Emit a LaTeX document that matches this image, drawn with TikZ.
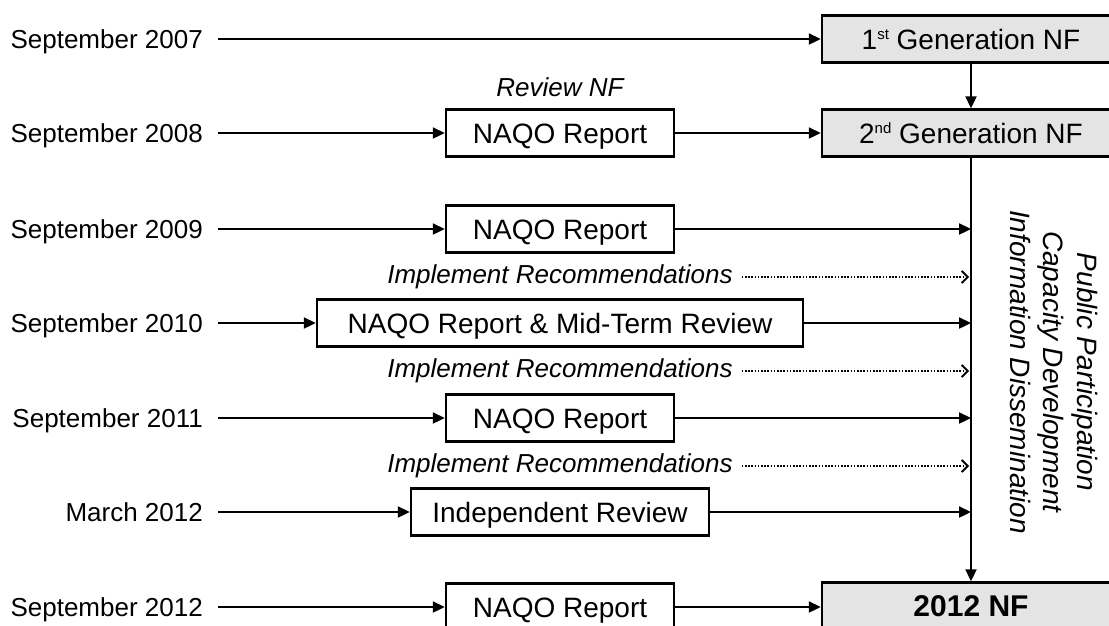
\documentclass[tikz,border=0pt]{standalone}
\usepackage{fontspec}
\setmainfont{Liberation Sans}
\usetikzlibrary{arrows.meta}
\definecolor{nfgray}{HTML}{E4E4E4}
\newcommand{\ordsup}[1]{\raisebox{10pt}{\fontsize{15}{15}\selectfont #1}}
\begin{document}
\begin{tikzpicture}[x=1pt,y=-1pt,
  datelbl/.style={anchor=east,inner sep=0pt,text height=18.6pt,text depth=0pt,
                  font=\fontsize{26}{30}\selectfont},
  repbox/.style={draw,line width=2.5pt,minimum height=47pt,inner sep=0pt,
                 text height=20pt,text depth=0pt,font=\fontsize{28}{32}\selectfont},
  nfbox/.style={repbox,fill=nfgray,minimum width=298pt},
  note/.style={inner sep=0pt,font=\fontsize{26}{30}\selectfont\itshape},
  flow/.style={line width=2.3pt,-{Triangle[length=12pt,width=11pt]}},
  recflow/.style={line width=2.2pt,dash pattern=on 1.6pt off 1.6pt,
                  -{Straight Barb[length=6pt,width=12pt,line width=1.8pt]}},
]
\useasboundingbox (0,0) rectangle (1109,625);

% national framework generations (right column)
\node[nfbox] (gen1) at (971,39) {1\ordsup{st} Generation NF};
\node[nfbox] (gen2) at (971,133) {2\ordsup{nd} Generation NF};
\node[nfbox,text height=21.5pt,font=\fontsize{30}{34}\selectfont\bfseries] (nf12) at (971,606) {2012 NF};

% dates
\node[datelbl] (d07) at (203,39) {September 2007};
\node[datelbl] (d08) at (203,133) {September 2008};
\node[datelbl] (d09) at (203,229) {September 2009};
\node[datelbl] (d10) at (203,323) {September 2010};
\node[datelbl] (d11) at (203,418) {September 2011};
\node[datelbl] (d12a) at (203,512) {March 2012};
\node[datelbl] (d12b) at (203,607) {September 2012};

% reports and reviews
\node[repbox,minimum width=228pt] (r08) at (560,133) {NAQO Report};
\node[repbox,minimum width=228pt] (r09) at (560,229) {NAQO Report};
\node[repbox,minimum width=486pt] (r10) at (560,323) {NAQO Report \& Mid-Term Review};
\node[repbox,minimum width=228pt] (r11) at (560,418) {NAQO Report};
\node[repbox,minimum width=298pt] (r12a) at (560,512) {Independent Review};
\node[repbox,minimum width=228pt] (r12b) at (560,607) {NAQO Report};

% notes
\node[note] (rev) at (560,87) {Review NF};
\node[note] (imp1) at (560,277) {Implement Recommendations};
\node[note] (imp2) at (560,371) {Implement Recommendations};
\node[note] (imp3) at (560,466) {Implement Recommendations};

% ongoing activities
\node[rotate=-90,align=center,inner sep=0pt,
      font=\fontsize{28}{33.5}\selectfont\itshape] (ongoing) at (1053.5,372)
  {Public Participation\\Capacity Development\\Information Dissemination};

% connectors
\draw[flow,shorten <=15pt] (d07.east) -- (gen1.west);
\draw[flow] (gen1.south) -- (gen2.north);
\draw[flow,shorten <=15pt] (d08.east) -- (r08.west);
\draw[flow] (r08.east) -- (gen2.west);
\draw[flow] (gen2.south) -- (nf12.north);

\draw[flow,shorten <=15pt] (d09.east) -- (r09.west);
\draw[flow] (r09.east) -- (r09.east -| gen2.south);
\draw[flow,shorten <=15pt] (d10.east) -- (r10.west);
\draw[flow] (r10.east) -- (r10.east -| gen2.south);
\draw[flow,shorten <=15pt] (d11.east) -- (r11.west);
\draw[flow] (r11.east) -- (r11.east -| gen2.south);
\draw[flow,shorten <=15pt] (d12a.east) -- (r12a.west);
\draw[flow] (r12a.east) -- (r12a.east -| gen2.south);
\draw[flow,shorten <=15pt] (d12b.east) -- (r12b.west);
\draw[flow] (r12b.east) -- (nf12.west |- r12b.east);

\draw[recflow,shorten <=9pt,shorten >=2pt] (imp1.east) -- (imp1.east -| gen2.south);
\draw[recflow,shorten <=9pt,shorten >=2pt] (imp2.east) -- (imp2.east -| gen2.south);
\draw[recflow,shorten <=9pt,shorten >=2pt] (imp3.east) -- (imp3.east -| gen2.south);
\end{tikzpicture}
\end{document}
